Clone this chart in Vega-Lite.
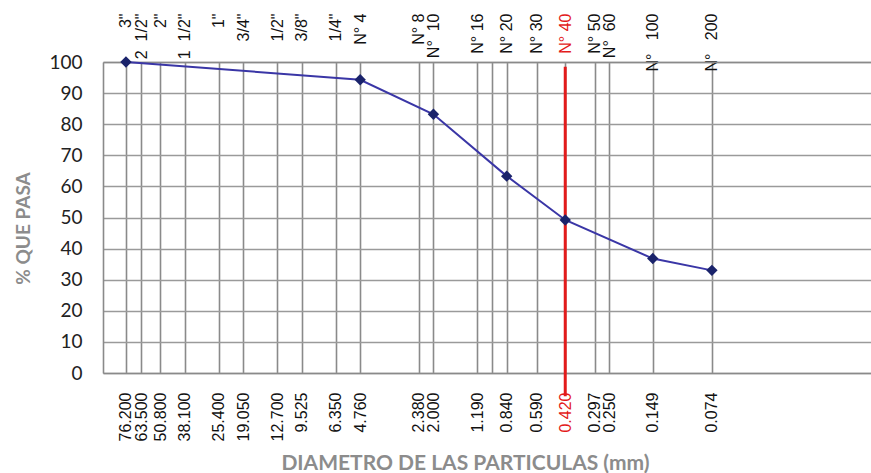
{
  "$schema": "https://vega.github.io/schema/vega-lite/v6.json",
  "autosize": {"type": "none"},
  "padding": {"left": 103, "top": 62, "right": 0, "bottom": 100},
  "width": 768,
  "height": 311,
  "background": "white",
  "config": {
    "view": {"stroke": null},
    "axisY": {
      "titleFont": "Lato",
      "titleFontWeight": "bold",
      "titleFontSize": 19,
      "titleColor": "#8c8c8c",
      "titleX": -80,
      "titleY": 166,
      "titleAngle": -90,
      "titleAlign": "center",
      "titleBaseline": "middle",
      "values": [0, 10, 20, 30, 40, 50, 60, 70, 80, 90, 100],
      "labelFont": "Lato",
      "labelFontSize": 19,
      "labelColor": "#222222",
      "labelPadding": 21,
      "labelOverlap": false,
      "ticks": false,
      "grid": true,
      "gridColor": "#9a9a9a",
      "gridWidth": 1.5,
      "domain": true,
      "domainColor": "#8a8a8a",
      "domainWidth": 1.6
    }
  },
  "datasets": {
    "curva": [
      {"diametro": 76.2, "pasa": 100},
      {"diametro": 4.76, "pasa": 94.3},
      {"diametro": 2.0, "pasa": 83.2},
      {"diametro": 0.84, "pasa": 63.3},
      {"diametro": 0.42, "pasa": 49.2},
      {"diametro": 0.149, "pasa": 36.8},
      {"diametro": 0.074, "pasa": 33.0}
    ],
    "limite": [
      {"diametro": 0.42, "y1": 98.5, "y2": -7.5}
    ]
  },
  "resolve": {"axis": {"x": "independent"}},
  "layer": [
    {
      "data": {"name": "limite"},
      "mark": {"type": "rule", "color": "#e31b1b", "strokeWidth": 3},
      "encoding": {
        "x": {
          "field": "diametro",
          "type": "quantitative",
          "scale": {"type": "log", "domain": [0.01125, 100], "reverse": true, "nice": false, "zero": false},
          "axis": {
            "orient": "bottom",
            "title": "DIAMETRO DE LAS PARTICULAS (mm)",
            "titleFont": "Lato",
            "titleFontWeight": "bold",
            "titleFontSize": 21,
            "titleColor": "#8c8c8c",
            "titleX": 362,
            "titleY": 96,
            "titleBaseline": "alphabetic",
            "titleAlign": "center",
            "values": [76.2, 63.5, 50.8, 38.1, 25.4, 19.05, 12.7, 9.525, 6.35, 4.76, 2.38, 2.0, 1.19, 1.0, 0.84, 0.59, 0.42, 0.297, 0.25, 0.149, 0.074],
            "labelExpr": "datum.value == 1 ? '' : format(datum.value, '.3f')",
            "labelAngle": -90,
            "labelAlign": "right",
            "labelBaseline": "middle",
            "labelPadding": 19,
            "labelFont": "Liberation Sans",
            "labelFontSize": 16,
            "labelColor": {"condition": {"test": "datum.value == 0.42", "value": "#e31b1b"}, "value": "#111111"},
            "labelOverlap": false,
            "labelFlush": false,
            "ticks": false,
            "grid": true,
            "gridColor": "#8a8a8a",
            "gridWidth": 1.6,
            "gridOpacity": 1,
            "domain": true,
            "domainColor": "#8a8a8a",
            "domainWidth": 1.6
          }
        },
        "y": {
          "field": "y1",
          "type": "quantitative",
          "title": "% QUE PASA",
          "scale": {"domain": [0, 100], "nice": false}
        },
        "y2": {"field": "y2"}
      }
    },
    {
      "data": {"name": "curva"},
      "mark": {
        "type": "line",
        "color": "#3a36a6",
        "strokeWidth": 2,
        "point": {"shape": "diamond", "filled": true, "size": 130, "color": "#1a236b"}
      },
      "encoding": {
        "x": {
          "field": "diametro",
          "type": "quantitative",
          "axis": {
            "orient": "top",
            "title": null,
            "values": [76.2, 63.5, 50.8, 38.1, 25.4, 19.05, 12.7, 9.525, 6.35, 4.76, 2.38, 2.0, 1.19, 1.0, 0.84, 0.59, 0.42, 0.297, 0.25, 0.149, 0.074],
            "labelExpr": "['3\"', '2\u00a0\u00a01/2\"', '2\"', '1\u00a0\u00a01/2\"', '1\"', '3/4\"', '1/2\"', '3/8\"', '1/4\"', 'N° 4', 'N° 8', 'N°\u00a0\u00a010', 'N° 16', '', 'N° 20', 'N° 30', 'N° 40', 'N° 50', 'N°\u00a0\u00a060', 'N°\u00a0\u00a0\u00a0100', 'N°\u00a0\u00a0\u00a0200'][indexof([76.2, 63.5, 50.8, 38.1, 25.4, 19.05, 12.7, 9.525, 6.35, 4.76, 2.38, 2.0, 1.19, 1.0, 0.84, 0.59, 0.42, 0.297, 0.25, 0.149, 0.074], datum.value)]",
            "labelAngle": -90,
            "labelAlign": "right",
            "labelBaseline": "middle",
            "labelPadding": 49,
            "labelFont": "Liberation Sans",
            "labelFontSize": 16,
            "labelColor": {"condition": {"test": "datum.value == 0.42", "value": "#e31b1b"}, "value": "#111111"},
            "labelOverlap": false,
            "labelFlush": false,
            "ticks": false,
            "grid": false,
            "domain": true,
            "domainColor": "#8a8a8a",
            "domainWidth": 1.6
          }
        },
        "y": {"field": "pasa", "type": "quantitative", "title": "% QUE PASA"}
      }
    }
  ]
}
